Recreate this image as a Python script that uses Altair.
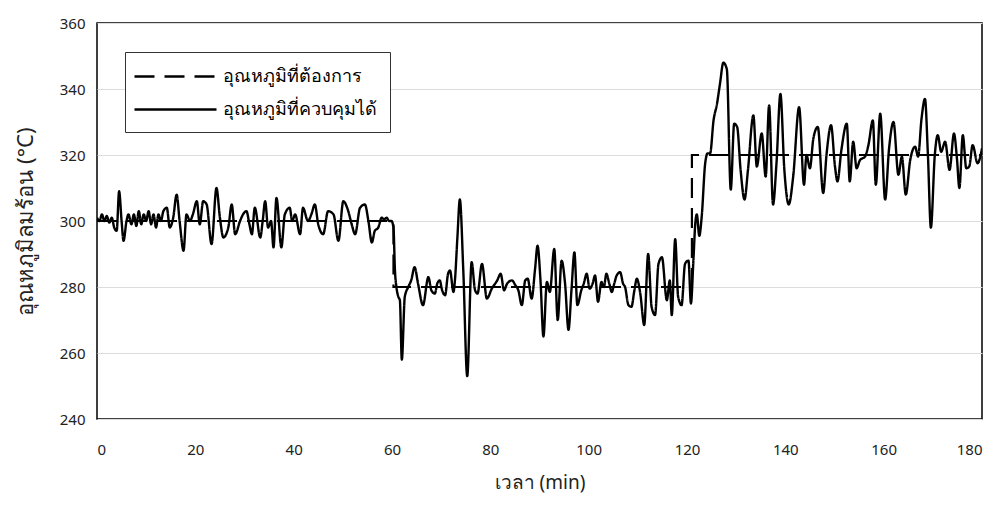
import altair as alt
import pandas as pd

# Setpoint (desired temperature)
sp_time = [0, 60.3, 60.3, 121, 121, 180]
sp_value = [300, 300, 280, 280, 320, 320]

# Controlled temperature
ct_time = [0, 0.5, 1, 1.5, 2, 2.5, 3, 3.5, 4, 4.5, 5, 5.4, 6, 6.4, 7, 7.5, 8, 8.5, 9, 9.5,
           10, 10.5, 11, 11.5, 12, 12.5, 13, 13.5, 14.2, 14.8, 15.5, 16.2, 16.8, 17.6, 18.2, 18.9, 19.5,
           20.3, 20.9, 21.6, 22.3, 23.3, 24.3, 25, 25.7, 26.7, 27.4, 28.1, 29.1, 29.7, 30.4, 31, 31.5,
           32.1, 33.2, 33.7, 34.2, 34.8, 35.4, 35.9, 36.5, 37.5, 38.2, 39.2, 39.7, 40.3, 41.3, 41.9,
           42.9, 43.6, 44.3, 45, 46, 47, 48.1, 49.1, 50.1, 51.1, 51.8, 52.5, 53.5, 54.5, 55.2, 55.9,
           56.5, 57.2, 57.9, 58.4, 58.9, 59.4, 59.9, 60.3, 60.6, 60.9, 61.3, 61.6, 62, 62.6, 63.3,
           63.9, 64.6, 65.3, 66.3, 67.4, 68, 68.7, 69.2, 69.7, 70.2, 70.8, 71.4, 71.8, 72.5, 72.8,
           73.3, 73.8, 74.5, 75.3, 76.2, 76.9, 77.4, 78.3, 79.3, 80.3, 81.4, 82.1, 82.8, 83.4, 84.4,
           85.1, 85.7, 86.4, 87.1, 87.6, 88.4, 89.1, 89.6, 90.2, 90.8, 91.5, 92.1, 93, 93.7, 94.5,
           95.2, 95.9, 96.5, 97.1, 97.7, 98.5, 99, 99.6, 100.2, 100.8, 101.3, 101.9, 102.6, 103.1,
           103.6, 104.2, 104.7, 105.2, 105.7, 106.4, 107, 107.4, 108.1, 108.7, 109.3, 109.8, 110.5,
           111.3, 112.1, 112.8, 113.5, 114.2, 114.9, 115.9, 116.5, 116.9, 117.6, 118.2, 118.9, 119.6,
           120.3, 120.8, 121.3, 121.7, 122, 122.5, 123, 123.7, 124.2, 124.7, 125.4, 126.1, 126.7,
           127.4, 128.1, 128.9, 129.6, 130.2, 130.9, 131.7, 132.4, 133.5, 134.2, 135.2, 136, 136.7,
           137.5, 138.2, 139, 139.8, 140.7, 141.6, 142.8, 143.8, 144.3, 145, 145.7, 146.6, 147.7,
           148.4, 149.3, 150.1, 150.6, 151.4, 152.5, 153.1, 153.8, 154.5, 155.2, 156.2, 156.9, 157.8,
           158.4, 159.3, 160.3, 161.1, 162, 163, 163.7, 164.5, 165.4, 166.4, 167, 167.7, 168.4, 169,
           169.6, 170.4, 171, 171.7, 172.5, 173.4, 174.3, 174.9, 175.4, 176.1, 176.8, 177.4, 178.1,
           179.1, 180]
ct_value = [301, 300, 302, 300, 301.5, 299.5, 301, 298, 297, 309, 300, 294, 300, 302, 299, 302, 298.5, 303, 299, 302,
            300, 303, 299, 302, 298, 302, 300, 303, 304, 298, 301, 308, 300, 291, 302, 300, 302,
            306, 299, 306, 305, 293, 310, 301, 295, 298, 305, 296, 300, 302, 303, 299, 296,
            304, 295, 300, 306, 298, 300, 292, 307, 292, 302, 304, 300, 302, 296, 304,
            300, 302, 305, 299, 296, 303, 302, 294, 306, 303, 299, 296, 304, 305, 300, 293.5,
            297, 298, 301, 300.5, 301, 300, 300, 298, 285, 280, 277, 276, 258, 277, 280,
            282, 286, 281, 274.5, 283, 279, 278, 281, 282, 279, 277.5, 284, 285, 278.5, 282,
            295, 306.5, 285, 253, 287.5, 279, 278, 287, 276.5, 279.5, 282, 284, 279, 281, 282,
            280.5, 279, 274.5, 282, 282.5, 276.5, 285.5, 292.5, 282, 265, 281.5, 278.5, 291.5, 270, 288,
            281, 267, 279, 290.5, 274.5, 279, 281, 284, 279.5, 281, 283.5, 275.5, 281.5, 280,
            284, 281, 278.5, 281, 283.5, 284.5, 281, 280, 274.5, 274, 279, 282.5, 278,
            268.5, 290, 274, 271.5, 287, 289, 276, 282, 271.5, 294.5, 277, 274.5, 287,
            288, 275, 288, 299.5, 302, 295.5, 301.5, 317.5, 320.5, 320.5, 330.5, 335.5, 341.5,
            348, 346, 309.5, 329.5, 328.5, 315.5, 306.5, 315.5, 332, 316.5, 326.5, 313.5, 335,
            305, 317.5, 338.5, 315.5, 305, 313.5, 334.5, 311, 320, 316, 325, 328.5, 308.5,
            320.5, 329, 316.5, 312, 321.5, 329.5, 312, 324, 316, 318.5, 319.5, 323, 330.5,
            311, 332.5, 306.5, 322, 330, 314, 319.5, 308, 318.5, 322.5, 319.5, 331, 337, 320,
            298, 320, 326, 321, 324, 315.5, 326.5, 319, 310, 326, 316, 316.5, 323,
            317.5, 322]

series_names = ["อุณหภูมิที่ต้องการ", "อุณหภูมิที่ควบคุมได้"]

sp_df = pd.DataFrame({"t": sp_time, "v": sp_value, "s": series_names[0]})
ct_df = pd.DataFrame({"t": ct_time, "v": ct_value, "s": series_names[1]})

FONT = "Noto Sans"

x_enc = alt.X("t:Q", scale=alt.Scale(domain=[0, 180], nice=False),
              axis=alt.Axis(title="เวลา (min)", values=list(range(0, 181, 20)), grid=False,
                            ticks=False, labelPadding=23, titlePadding=16))
y_enc = alt.Y("v:Q", scale=alt.Scale(domain=[240, 360], nice=False),
              axis=alt.Axis(title="อุณหภูมิลมร้อน (°C)", values=list(range(240, 361, 20)), grid=True,
                            ticks=False, labelPadding=12, titlePadding=22))
dash_enc = alt.StrokeDash(
    "s:N",
    scale=alt.Scale(domain=series_names, range=[[20, 10], [1, 0]]),
    legend=alt.Legend(title=None, orient="none", legendX=28, legendY=29,
                      symbolType="M-1.5,0H6.7", symbolSize=400,
                      symbolStrokeWidth=2.4, symbolStrokeColor="black",
                      labelFontSize=18, labelFont=FONT, labelColor="black",
                      strokeColor="#333", fillColor="white",
                      padding=13, rowPadding=12, labelOffset=62,
                      labelLimit=400),
)

sp_line = alt.Chart(sp_df).mark_line(strokeWidth=2.2, color="black", clip=True).encode(
    x=x_enc, y=y_enc, strokeDash=dash_enc)
ct_line = alt.Chart(ct_df).mark_line(strokeWidth=2.4, color="black", clip=True,
                                     interpolate="monotone").encode(
    x=x_enc, y=y_enc, strokeDash=dash_enc)

chart = alt.layer(sp_line, ct_line).properties(
    width=885, height=396,
    autosize="none",
    padding={"left": 89, "top": 15, "right": 10, "bottom": 80},
).configure_view(
    stroke="black", strokeWidth=1.5
).configure_axis(
    labelFont=FONT, titleFont=FONT, labelFontSize=15, titleFontSize=19,
    labelColor="#222", titleColor="#222", titleFontWeight="normal",
    domain=False, gridColor="#dcdcdc", gridWidth=1,
).configure_axisY(titleFontSize=22)

chart.save("out.html", embed_options={"renderer": "svg", "actions": False})
